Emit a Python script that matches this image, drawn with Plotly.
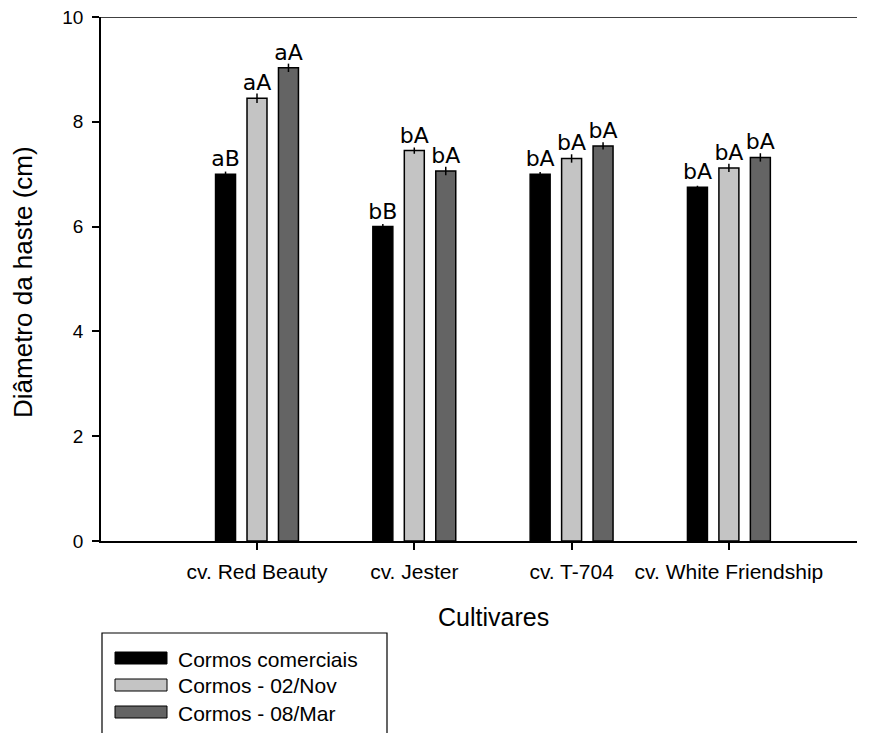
import plotly.graph_objects as go

# ---- data ----
cultivares = ["cv. Red Beauty", "cv. Jester", "cv. T-704", "cv. White Friendship"]
series_names = ["Cormos comerciais", "Cormos - 02/Nov", "Cormos - 08/Mar"]
comerciais = [7.0, 6.0, 7.0, 6.75]
nov02 = [8.45, 7.45, 7.30, 7.12]
mar08 = [9.03, 7.06, 7.54, 7.32]
err_comerciais = [0.05, 0.05, 0.04, 0.03]
err_nov02 = [0.09, 0.06, 0.08, 0.08]
err_mar08 = [0.08, 0.08, 0.07, 0.08]
lab_comerciais = ["aB", "bB", "bA", "bA"]
lab_nov02 = ["aA", "bA", "bA", "bA"]
lab_mar08 = ["aA", "bA", "bA", "bA"]
y_ticks = [0, 2, 4, 6, 8, 10]

colors = ["#000000", "#c4c4c4", "#646464"]
values = [comerciais, nov02, mar08]
errors = [err_comerciais, err_nov02, err_mar08]
labels = [lab_comerciais, lab_nov02, lab_mar08]

W, H = 872, 733
ML, MR, MT, MB = 101, 15, 17, 192
PW, PH = W - ML - MR, H - MT - MB

FONT = "Liberation Sans, Arial, sans-serif"

x_idx = list(range(len(cultivares)))

fig = go.Figure()
for name, vals, errs, labs, col in zip(series_names, values, errors, labels, colors):
    fig.add_trace(go.Bar(
        x=x_idx, y=vals, name=name,
        marker=dict(color=col, line=dict(color="#000000", width=1.5)),
        error_y=dict(type="data", array=errs, visible=True, color="#000000",
                     thickness=1.5, width=0),
        text=labs, textposition="outside", constraintext="none",
        textfont=dict(family="DejaVu Sans", size=22, color="#000000"),
        cliponaxis=False, showlegend=False, hoverinfo="skip",
    ))

def px_to_paper_x(px):
    return (px - ML) / PW

def px_to_paper_y(py):
    return (H - MB - py) / PH

shapes = []
annotations = []
# top frame line
shapes.append(dict(type="line", xref="paper", yref="y", x0=0, x1=1, y0=10, y1=10,
                   line=dict(color="#000000", width=1.5)))
# legend box (custom, wide swatches as in reference)
shapes.append(dict(type="rect", xref="paper", yref="paper",
                   x0=px_to_paper_x(102), x1=px_to_paper_x(387),
                   y0=px_to_paper_y(633), y1=px_to_paper_y(745),
                   line=dict(color="#000000", width=1.2), fillcolor="rgba(0,0,0,0)"))
row_centers = [658, 685, 712]
for name, col, cy in zip(series_names, colors, row_centers):
    shapes.append(dict(type="rect", xref="paper", yref="paper",
                       x0=px_to_paper_x(115), x1=px_to_paper_x(167),
                       y0=px_to_paper_y(cy + 6), y1=px_to_paper_y(cy - 6),
                       line=dict(color="#000000", width=1), fillcolor=col))
    annotations.append(dict(text=name, xref="paper", yref="paper",
                            x=px_to_paper_x(176), y=px_to_paper_y(cy + 1),
                            xanchor="left", yanchor="middle", showarrow=False,
                            font=dict(family=FONT, size=21, color="#000000")))

# axis titles
annotations.append(dict(text="Cultivares", xref="paper", yref="paper",
                        x=px_to_paper_x(493), y=px_to_paper_y(617),
                        xanchor="center", yanchor="middle", showarrow=False,
                        font=dict(family=FONT, size=25, color="#000000")))
annotations.append(dict(text="Diâmetro da haste (cm)", xref="paper", yref="paper",
                        x=px_to_paper_x(23), y=px_to_paper_y(282),
                        xanchor="center", yanchor="middle", showarrow=False,
                        textangle=-90,
                        font=dict(family=FONT, size=26, color="#000000")))

step = 157.3
x0 = -(257 - ML) / step
x1 = x0 + PW / step

fig.update_layout(
    width=W, height=H,
    margin=dict(l=ML, r=MR, t=MT, b=MB, pad=0, autoexpand=False),
    paper_bgcolor="white", plot_bgcolor="white",
    barmode="group", bargap=0.4, bargroupgap=0.365,
    font=dict(family=FONT, color="#000000"),
    shapes=shapes, annotations=annotations,
    showlegend=False,
)
fig.update_xaxes(
    range=[x0, x1], tickmode="array", tickvals=x_idx, ticktext=cultivares,
    showline=True, linecolor="#000000", linewidth=1.5,
    ticks="outside", ticklen=7, tickwidth=1.5, tickcolor="#000000",
    tickfont=dict(family=FONT, size=21, color="#000000"),
    showgrid=False, zeroline=False, ticklabelstandoff=4, automargin=False,
)
fig.update_yaxes(
    range=[0, 10], tickmode="array", tickvals=y_ticks,
    showline=True, linecolor="#000000", linewidth=1.5,
    ticks="outside", ticklen=7, tickwidth=1.5, tickcolor="#000000",
    tickfont=dict(family=FONT, size=19, color="#000000"),
    showgrid=False, zeroline=False, ticklabelstandoff=5, automargin=False,
)

# remove the browser's default 8px body margin so the figure sits at the page origin
fig.write_html("out.html", config={"displayModeBar": False},
               post_script="document.body.style.margin='0px';")
